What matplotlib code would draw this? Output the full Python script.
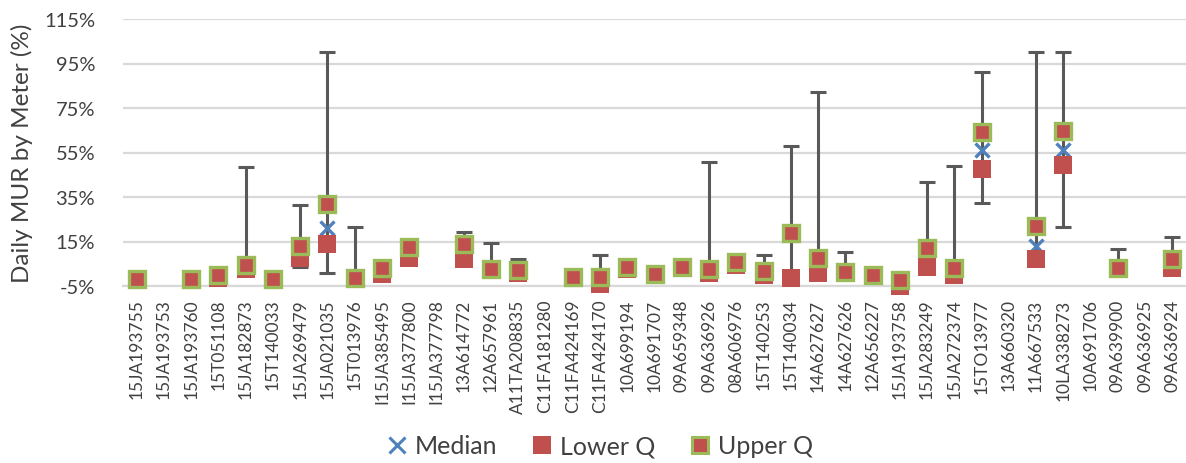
import numpy as np
import matplotlib
matplotlib.use("Agg")
import matplotlib.pyplot as plt
from matplotlib.lines import Line2D

nan = np.nan
categories = ["15JA193755", "15JA193753", "15JA193760", "15T051108", "15JA182873",
              "15T140033", "15JA269479", "15JA021035", "15T013976", "I15JA385495",
              "I15JA377800", "I15JA377798", "13A614772", "12A657961", "A11TA208835",
              "C11FA181280", "C11FA424169", "C11FA424170", "10A699194", "10A691707",
              "09A659348", "09A636926", "08A606976", "15T140253", "15T140034",
              "14A627627", "14A627626", "12A656227", "15JA193758", "15JA283249",
              "15JA272374", "15TO13977", "13A660320", "11A667533", "10LA338273",
              "10A691706", "09A639900", "09A636925", "09A636924"]

upper_q = [-1.7, nan, -1.7, -0.2, 4.5, -1.7, 13.0, 32.0, -1.2, 3.3,
           12.7, nan, 13.7, 2.8, 2.2, nan, -0.8, -0.8, 3.6, 0.3,
           3.6, 2.5, 5.8, 1.8, 19.0, 7.8, 1.5, -0.2, -2.5, 12.2,
           3.2, 64.0, nan, 22.0, 64.5, nan, 3.2, nan, 7.3]
lower_q = [-2.0, nan, -2.0, -1.5, 2.5, -2.0, 7.5, 13.8, -1.5, 0.3,
           7.8, nan, 7.0, 2.0, 0.7, nan, -1.0, -4.2, 2.8, -0.2,
           3.3, 1.0, 4.3, -0.2, -1.5, 0.7, 0.8, -0.5, -5.0, 3.6,
           -0.2, 47.5, nan, 7.0, 49.3, nan, 2.5, nan, 3.2]
median = [-1.8, nan, -1.8, -0.8, 3.5, -1.8, 10.0, 21.0, -1.3, 1.5,
          10.0, nan, 10.0, 2.4, 1.5, nan, -0.9, -2.5, 3.2, 0.0,
          3.4, 1.8, 5.0, 0.8, -1.0, 4.0, 1.1, -0.3, -3.8, 8.0,
          1.5, 56.2, nan, 13.0, 56.2, nan, 2.9, nan, 5.2]
whisker_max = [-1.7, nan, -1.7, -0.2, 48.7, -1.7, 31.5, 100.0, 21.6, 3.3,
               12.7, nan, 19.3, 14.5, 7.3, nan, -0.8, 9.0, 3.6, 0.3,
               3.6, 50.8, 5.8, 9.0, 58.0, 82.0, 10.5, -0.2, -2.5, 41.8,
               49.0, 91.3, nan, 100.0, 100.0, nan, 11.5, nan, 17.2]
whisker_min = [-2.0, nan, -2.0, -1.5, 2.5, -2.0, 3.6, 0.7, -1.5, 0.3,
               7.8, nan, 7.0, 2.0, 0.7, nan, -1.0, -4.2, 2.8, -0.2,
               3.3, 1.0, 4.3, -0.2, -1.5, 0.7, 0.8, -0.5, -5.0, 3.6,
               -0.2, 32.5, nan, 5.0, 21.3, nan, 2.5, nan, 3.2]
y_ticks = [-5, 15, 35, 55, 75, 95, 115]

RED = "#C0504D"
GREEN = "#9BBB59"
BLUE = "#4F81BD"
GRAY = "#595959"
TEXT = "#404040"
FONT = "Lato"

fig = plt.figure(figsize=(11.86, 4.64), dpi=100)
ax = fig.add_axes([123 / 1186, 1 - 287 / 464, 1 - 123 / 1186, (287 - 20) / 464])

x = np.arange(len(categories))
wmin = np.array(whisker_min)
wmax = np.array(whisker_max)
lq = np.array(lower_q)
uq = np.array(upper_q)
md = np.array(median)

ax.vlines(x, wmin, wmax, color=GRAY, lw=2.2, zorder=2)
ax.plot(x, wmax, ls="none", marker="_", ms=11, mew=2.2, color=GRAY, zorder=2)
ax.plot(x, wmin, ls="none", marker="_", ms=11, mew=2.2, color=GRAY, zorder=2)

ax.plot(x, md, ls="none", marker="x", ms=10, mew=2.4, color=BLUE, zorder=3, clip_on=False)
ax.plot(x, lq, ls="none", marker="s", ms=13.5, mew=0, color=RED, zorder=4, clip_on=False)
ax.plot(x, uq, ls="none", marker="s", ms=11.5, mew=2.4, mfc=RED, mec=GREEN, zorder=5, clip_on=False)

ax.set_xlim(-0.5, len(categories) - 0.5)
ax.set_ylim(-5, 115)
ax.set_yticks(y_ticks)
ax.set_yticklabels([f"{t}%" for t in y_ticks], fontsize=14.5, family=FONT, color=TEXT)
ax.set_xticks(x)
ax.set_xticklabels(categories, rotation=90, fontsize=12.5, family=FONT, color=TEXT)
ax.tick_params(axis="x", length=0, pad=9)
ax.tick_params(axis="y", length=0, pad=20)
ax.grid(axis="y", color="#D9D9D9", lw=1.6)
ax.set_axisbelow(True)
for s in ["top", "right", "left"]:
    ax.spines[s].set_visible(False)
ax.spines["bottom"].set_color("#D9D9D9")
ax.spines["bottom"].set_linewidth(1.6)
ax.set_ylabel("Daily MUR by Meter (%)", fontsize=17.5, family=FONT, color=TEXT, labelpad=8)

handles = [
    Line2D([], [], ls="none", marker="x", ms=12, mew=2.2, color=BLUE),
    Line2D([], [], ls="none", marker="s", ms=13, mew=0, color=RED),
    Line2D([], [], ls="none", marker="s", ms=11, mew=2.2, mfc=RED, mec=GREEN),
]
fig.legend(handles, ["Median", "Lower Q", "Upper Q"], loc="center",
           bbox_to_anchor=(0.506, 0.037), ncol=3, frameon=False,
           prop={"family": FONT, "size": 18}, handlelength=0.8,
           handletextpad=0.3, columnspacing=1.4, labelcolor=TEXT)

fig.savefig("out.png", dpi=100, facecolor="white")
